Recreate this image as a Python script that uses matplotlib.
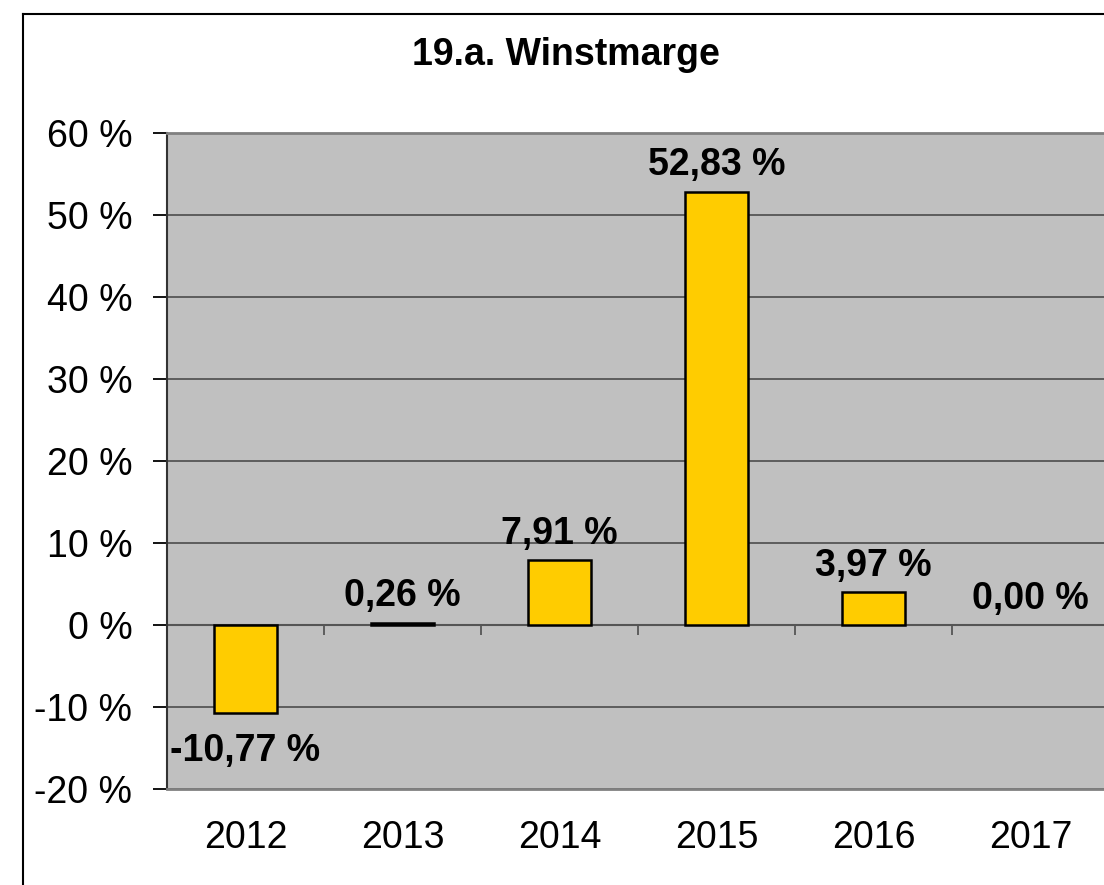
import numpy as np
import matplotlib
matplotlib.use("Agg")
import matplotlib.pyplot as plt
from matplotlib.lines import Line2D

# chart data
years = ["2012", "2013", "2014", "2015", "2016", "2017"]
margin = [-10.77, 0.26, 7.91, 52.83, 3.97, 0.00]
yticks = [-20, -10, 0, 10, 20, 30, 40, 50, 60]

plt.rcParams['font.family'] = ['Liberation Sans', 'DejaVu Sans']
FS = 27

fig = plt.figure(figsize=(11.04, 8.85), dpi=100)
ax = fig.add_axes([167 / 1104, 96 / 885, 942 / 1104, 656 / 885])

x = np.arange(len(years))
ax.set_facecolor('#C0C0C0')
ax.set_axisbelow(True)
ax.yaxis.grid(True, color='#555555', linewidth=1.3)

edge_w = [1.8 if v != 0 else 0 for v in margin]
ax.bar(x, margin, width=0.4, color='#FFCC00', edgecolor='black', linewidth=edge_w, zorder=3)

# zero line with small category separator ticks
ax.axhline(0, color='#555555', linewidth=1.5, zorder=2)
bounds = x[:-1] + 0.5
ax.vlines(bounds, 0, -1.25, color='#555555', linewidth=1.3, zorder=2)

for xi, v in zip(x, margin):
    txt = f"{v:.2f}".replace('.', ',') + " %"
    off = 19 if v >= 0 else -27
    ax.annotate(txt, (xi, v), xytext=(0, off), textcoords='offset points',
                ha='center', va='center', fontsize=FS, fontweight='bold', zorder=4)

ax.set_xlim(-0.5, len(years) - 0.5)
ax.set_ylim(-20, 60)
ax.set_yticks(yticks)
ax.set_yticklabels([f"{t} %" for t in yticks], fontsize=FS)
ax.set_xticks(x)
ax.set_xticklabels(years, fontsize=FS)
ax.tick_params(axis='x', length=0, pad=22)
ax.tick_params(axis='y', length=10, width=1.3, pad=15)

for s in ['top', 'right', 'bottom']:
    ax.spines[s].set_color('#808080')
    ax.spines[s].set_linewidth(2)
ax.spines['left'].set_color('#333333')
ax.spines['left'].set_linewidth(1.5)

fig.text(566 / 1104, 1 - 55 / 885, "19.a. Winstmarge", fontsize=FS, fontweight='bold',
         ha='center', va='center')

# outer chart border (left and top visible)
bx, by = 23 / 1104, 1 - 14 / 885
fig.add_artist(Line2D([bx, bx], [0, by], color='black', linewidth=1.5, transform=fig.transFigure))
fig.add_artist(Line2D([bx, 1], [by, by], color='black', linewidth=1.5, transform=fig.transFigure))

fig.savefig("out.png", dpi=100)
